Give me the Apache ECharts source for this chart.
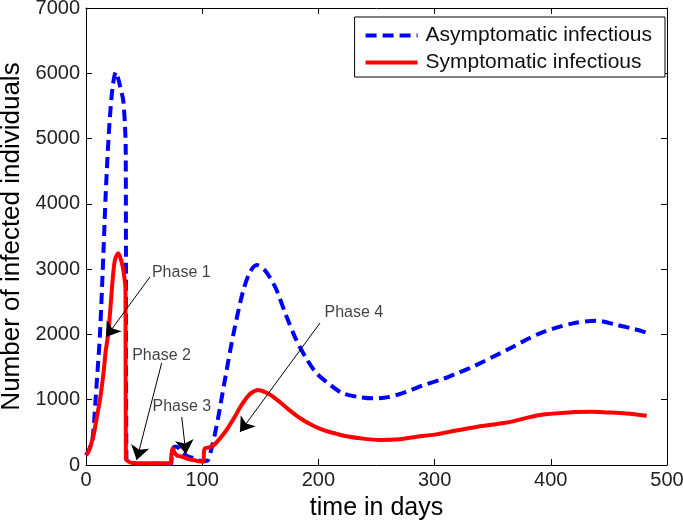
<!DOCTYPE html>
<html>
<head>
<meta charset="utf-8">
<script src="https://cdn.jsdelivr.net/npm/echarts@6/dist/echarts.min.js"></script>
<style>html,body{margin:0;padding:0;background:#fff;}#c{width:683px;height:524px;}</style>
</head>
<body>
<div id="c"></div>
<script>
// ---- data ----
const asymDays = [0,2.5,5,6.5,9.2,12,15,17,20,23,25.8,28,30,32,33.6,34.2,34.8,37,45,60,73,74,76,78,82,88,94,100,103,105,108,111,114,120,126.8,135,141,147,153,158,164,172,181,190,198.5,210,221,235,247,260,276,290,307.5,320,333,362,390.7,419,439.5,456.7,470,482];
const asymValues = [150,230,340,550,1255,2000,3250,4165,5180,5800,6023,5900,5750,5590,5180,4800,100,40,20,20,20,200,280,280,200,130,100,60,60,75,250,480,750,1350,2000,2650,2950,3063,3000,2880,2680,2300,1914,1620,1404,1230,1098,1040,1021,1040,1123,1220,1320,1410,1506,1761,2017,2170,2210,2144,2090,2030];

const sympDays = [0,2,4,6.3,9,12,15,17,19.2,21,23,25,27.8,30,32,33.6,34,34.3,36,40,50,60,73,73.5,74.6,76,78,82,86.6,91,95,101,101.5,102.4,106,109.6,115,121,124,129.7,132.5,137,142,148,155,160,167,175,184,195.6,205,215,224,240,253,270,284.6,300,313,337,362,390.7,419,435,448,465,482.5];
const sympValues = [150,200,300,434,700,995,1400,1750,2017,2400,2850,3150,3242,3150,3000,2787,2700,100,60,30,25,25,25,150,255,200,150,130,100,80,65,50,200,255,270,300,400,536,620,790,880,1000,1100,1150,1110,1060,960,840,720,600,530,480,440,400,383,395,434,465,510,587,650,766,810,815,806,790,755];

const seriesNames = ['Asymptomatic infectious', 'Symptomatic infectious'];

const xTicks = {min: 0, max: 500, interval: 100};
const yTicks = {min: 0, max: 7000, interval: 1000};

const phaseNames = ['Phase 1','Phase 2','Phase 3','Phase 4'];
const phaseTextX = [82, 65, 82.5, 230.5];
const phaseTextY = [2940, 1670, 890, 2330];
const arrowFromX = [55, 65.1, 82.4, 201.4];
const arrowFromY = [2880, 1562, 735, 2175];
const arrowToX   = [17.2, 43.6, 86, 132.5];
const arrowToY   = [1960, 77, 168, 505];

// ---- build ----
const zip = (xs, ys) => xs.map((x, i) => [x, ys[i]]);
const FONT = "'Liberation Sans', Arial, Helvetica, sans-serif";

const chart = echarts.init(document.getElementById('c'), null, {renderer: 'canvas'});

const axisCommon = {
  type: 'value',
  axisLine: {show: true, onZero: false, lineStyle: {color: '#000', width: 1}},
  axisTick: {show: true, inside: true, length: 6, lineStyle: {color: '#000'}},
  splitLine: {show: false}
};

const option = {
  backgroundColor: '#fff',
  animation: false,
  grid: {left: 86, right: 16, top: 8, bottom: 59, containLabel: false, outerBoundsMode: 'none'},
  legend: {
    data: seriesNames,
    orient: 'vertical',
    right: 18, top: 17,
    backgroundColor: '#fff',
    borderColor: '#000', borderWidth: 1,
    padding: [8, 13, 4, 9],
    itemWidth: 52, itemHeight: 14, itemGap: 6,
    itemStyle: {opacity: 0},
    lineStyle: {width: 4},
    textStyle: {fontFamily: FONT, fontSize: 21, color: '#111', padding: [0,0,0,3]}
  },
  xAxis: [
    Object.assign({}, axisCommon, {
      position: 'bottom', min: xTicks.min, max: xTicks.max, interval: xTicks.interval,
      name: 'time in days', nameLocation: 'middle', nameGap: 31,
      nameTextStyle: {fontFamily: FONT, fontSize: 25, color: '#000'},
      axisLabel: {fontFamily: FONT, fontSize: 20, color: '#222', margin: 5, formatter: v => String(v)}
    }),
    Object.assign({}, axisCommon, {
      position: 'top', min: xTicks.min, max: xTicks.max, interval: xTicks.interval,
      axisLabel: {show: false}
    })
  ],
  yAxis: [
    Object.assign({}, axisCommon, {
      position: 'left', min: yTicks.min, max: yTicks.max, interval: yTicks.interval,
      name: 'Number of infected individuals', nameLocation: 'middle', nameGap: 60,
      nameTextStyle: {fontFamily: FONT, fontSize: 26, color: '#000'},
      axisLabel: {fontFamily: FONT, fontSize: 20, color: '#222', margin: 6, formatter: v => String(v)}
    }),
    Object.assign({}, axisCommon, {
      position: 'right', min: yTicks.min, max: yTicks.max, interval: yTicks.interval,
      axisLabel: {show: false}
    })
  ],
  series: [
    {
      name: seriesNames[0], type: 'line', xAxisIndex: 0, yAxisIndex: 0,
      data: zip(asymDays, asymValues),
      smooth: 0.3, symbol: 'none', showSymbol: false,
      lineStyle: {color: '#0000ff', width: 4, type: [11, 6]},
      itemStyle: {color: '#0000ff'},
      z: 2
    },
    {
      name: seriesNames[1], type: 'line', xAxisIndex: 0, yAxisIndex: 0,
      data: zip(sympDays, sympValues),
      smooth: 0.3, symbol: 'none', showSymbol: false,
      lineStyle: {color: '#ff0000', width: 4},
      itemStyle: {color: '#ff0000'},
      z: 3,
      markLine: {
        silent: true, animation: false,
        symbol: ['none', 'arrow'], symbolSize: 14,
        lineStyle: {color: '#000', width: 1, type: 'solid'},
        itemStyle: {color: '#000'},
        label: {show: false},
        emphasis: {disabled: true},
        data: phaseNames.map((n, i) => [
          {coord: [arrowFromX[i], arrowFromY[i]]},
          {coord: [arrowToX[i], arrowToY[i]]}
        ])
      }
    },
    {
      name: 'phases', type: 'scatter', xAxisIndex: 0, yAxisIndex: 0,
      symbolSize: 0, silent: true, z: 5,
      data: phaseNames.map((n, i) => ({name: n, value: [phaseTextX[i], phaseTextY[i]]})),
      label: {show: true, position: 'inside', formatter: p => p.name,
        fontFamily: FONT, fontSize: 16, color: '#111'}
    }
  ]
};
chart.setOption(option);
</script>
</body>
</html>
